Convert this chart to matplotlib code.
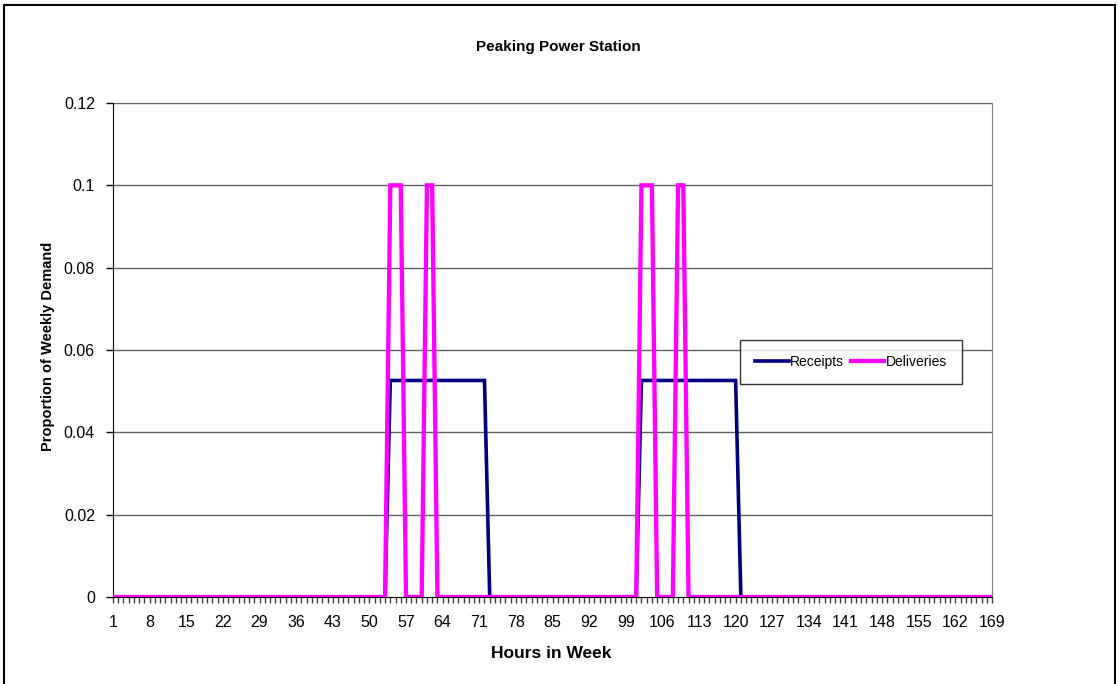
import numpy as np
from matplotlib import pyplot as plt
from matplotlib.patches import Rectangle

plt.rcParams['font.family'] = ['Liberation Sans', 'DejaVu Sans']

hours = list(range(1, 170))
z24 = [0.0] * 24
# hours 1-48, 73-96, 121-169 are zero
receipts = (z24 + z24
            + [0, 0, 0, 0, 0] + [0.0526] * 19
            + z24
            + [0, 0, 0, 0, 0] + [0.0526] * 19
            + z24 + z24 + [0.0])
deliveries = (z24 + z24
              + [0, 0, 0, 0, 0, 0.1, 0.1, 0.1, 0, 0, 0, 0, 0.1, 0.1, 0, 0, 0, 0, 0, 0, 0, 0, 0, 0]
              + z24
              + [0, 0, 0, 0, 0, 0.1, 0.1, 0.1, 0, 0, 0, 0, 0.1, 0.1, 0, 0, 0, 0, 0, 0, 0, 0, 0, 0]
              + z24 + z24 + [0.0])
tick_hours = list(range(1, 170, 7))
y_ticks = [0, 0.02, 0.04, 0.06, 0.08, 0.1, 0.12]
y_labels = ['0', '0.02', '0.04', '0.06', '0.08', '0.1', '0.12']

fig = plt.figure(figsize=(11.19, 6.84), dpi=100)
ax = fig.add_axes([0.101, 0.1272, 0.7855, 0.7222])

for yv in y_ticks[1:]:
    ax.axhline(yv, color='#606060', lw=1, zorder=1)

ax.plot(hours, receipts, color='#000080', lw=2.6, label='Receipts', zorder=3, solid_joinstyle='miter')
ax.plot(hours, deliveries, color='#FF00FF', lw=3.1, label='Deliveries', zorder=4, solid_joinstyle='miter')

ax.set_xlim(1, 169)
ax.set_ylim(0, 0.12)
ax.set_xticks(tick_hours)
ax.set_xticklabels([str(h) for h in tick_hours], fontsize=11.5)
ax.set_xticks(hours, minor=True)
ax.set_yticks(y_ticks)
ax.set_yticklabels(y_labels, fontsize=11.5)
ax.tick_params(axis='x', which='both', direction='out', length=4, width=1, pad=9, color='#404040')
ax.tick_params(axis='y', direction='out', length=5, width=1, pad=8)

ax.spines['top'].set_visible(False)
ax.spines['right'].set_color('#808080')
ax.spines['left'].set_color('black')
ax.spines['bottom'].set_color('black')

fig.text(0.499, 0.931, 'Peaking Power Station', ha='center', va='center', fontsize=11, fontweight='bold')
fig.text(0.493, 0.044, 'Hours in Week', ha='center', va='center', fontsize=12.5, fontweight='bold')
fig.text(0.043, 0.493, 'Proportion of Weekly Demand', ha='center', va='center', rotation=90,
         fontsize=10.5, fontweight='bold')

leg = ax.legend(loc='center', bbox_to_anchor=(0.7605, 0.4708), bbox_transform=fig.transFigure,
                ncol=2, fontsize=10, frameon=True, fancybox=False, handlelength=2.4,
                columnspacing=0.5, handletextpad=0.1, borderpad=1.1)
leg.get_frame().set_edgecolor('black')
leg.get_frame().set_linewidth(1)

fig.patches.append(Rectangle((0.0036, -0.02), 0.9928, 1.0126, transform=fig.transFigure,
                             fill=False, edgecolor='black', lw=1.5, clip_on=False))

fig.savefig('out.png', dpi=100)
